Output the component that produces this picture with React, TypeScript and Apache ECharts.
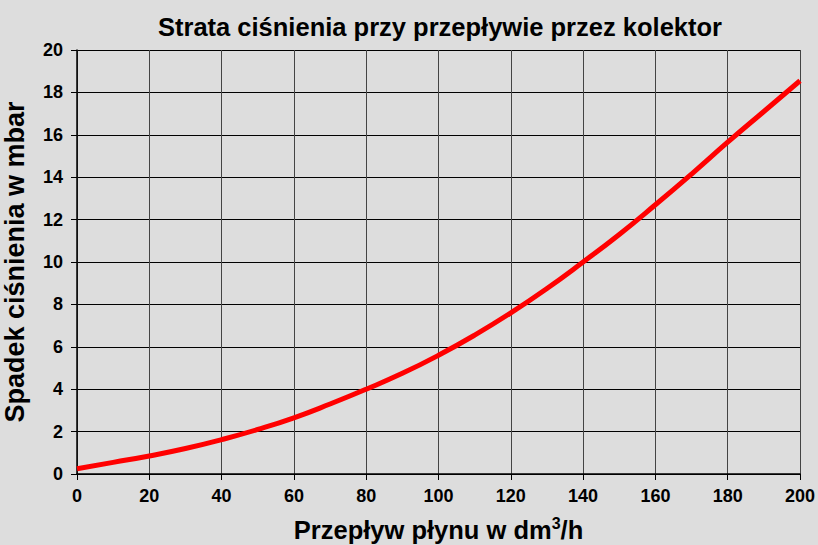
import React, { useEffect, useRef } from "react";
import * as echarts from "echarts";

const flow = [0, 10, 20, 30, 40, 50, 60, 70, 80, 90, 100, 110, 120, 130, 140, 150, 160, 170, 180, 190, 200];
const pressureDrop = [0.25, 0.55, 0.85, 1.2, 1.62, 2.1, 2.65, 3.3, 4.0, 4.75, 5.6, 6.55, 7.6, 8.75, 10.0, 11.3, 12.7, 14.15, 15.65, 17.1, 18.55];

const titleText = "Strata ciśnienia przy przepływie przez kolektor";
const yName = "Spadek ciśnienia w mbar";

export default function App() {
  const ref = useRef<HTMLDivElement>(null);
  useEffect(() => {
    if (!ref.current) return;
    const chart = echarts.init(ref.current, null, { renderer: "svg" });
    const font = "'Liberation Sans', Arial, sans-serif";
    chart.setOption({
      animation: false,
      backgroundColor: "#dddddd",
      textStyle: { fontFamily: font },
      title: {
        text: titleText,
        left: 435,
        textAlign: "center",
        top: 9,
        textStyle: { fontSize: 25.5, fontWeight: "bold", color: "#000", fontFamily: font },
      },
      grid: { left: 77, right: 18, top: 50, bottom: 71, outerBoundsMode: "none", containLabel: false },
      xAxis: {
        type: "value",
        min: 0,
        max: 200,
        interval: 20,
        name: "{a|Przepływ płynu w dm}{s|3}{a|/h}",
        nameLocation: "middle",
        nameGap: 41,
        nameTextStyle: {
          rich: {
            a: { fontSize: 25.5, fontWeight: "bold", color: "#000", fontFamily: font },
            s: { fontSize: 16, fontWeight: "bold", color: "#000", fontFamily: font, verticalAlign: "top", padding: [0, 0, 13, 0] },
          },
        },
        axisLine: { show: true, lineStyle: { color: "#000", width: 1.5 } },
        axisTick: { show: true, length: 6, lineStyle: { color: "#000" } },
        axisLabel: { fontSize: 18, fontWeight: "bold", color: "#000", margin: 13, fontFamily: font },
        splitLine: { show: true, lineStyle: { color: "#444", width: 1 } },
      },
      yAxis: {
        type: "value",
        min: 0,
        max: 20,
        interval: 2,
        name: yName,
        nameLocation: "middle",
        nameGap: 49,
        nameTextStyle: { fontSize: 27, fontWeight: "bold", color: "#000", fontFamily: font },
        axisLine: { show: true, lineStyle: { color: "#000", width: 1.5 } },
        axisTick: { show: true, length: 6, lineStyle: { color: "#000" } },
        axisLabel: { fontSize: 18, fontWeight: "bold", color: "#000", margin: 14, fontFamily: font },
        splitLine: { show: true, lineStyle: { color: "#000", width: 1 } },
      },
      series: [
        {
          type: "line",
          data: flow.map((x, i) => [x, pressureDrop[i]]),
          smooth: true,
          showSymbol: false,
          lineStyle: { color: "#ff0000", width: 5 },
        },
      ],
    });
    return () => chart.dispose();
  }, []);
  return <div ref={ref} style={{ width: 818, height: 545, position: "absolute", left: 0, top: 0 }} />;
}
